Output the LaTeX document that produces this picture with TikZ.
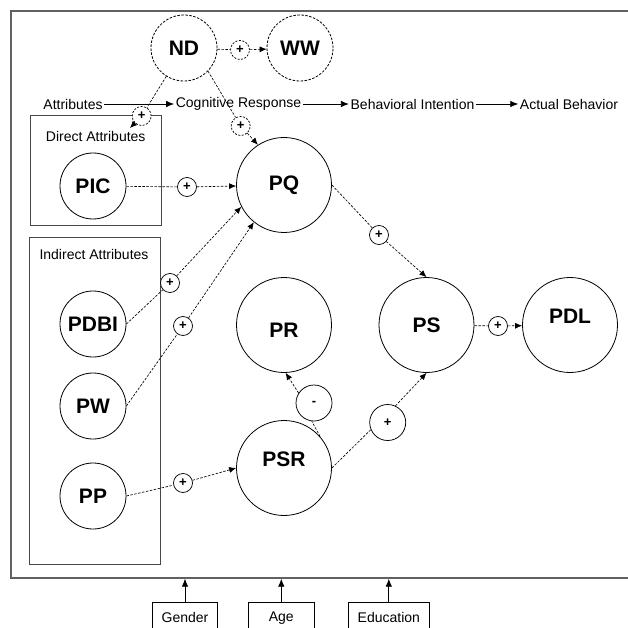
\documentclass[tikz,border=0pt]{standalone}
\usepackage{fontspec}
\setmainfont{Liberation Sans}
\usetikzlibrary{arrows.meta}
\begin{document}
\begin{tikzpicture}[x=1pt,y=-1pt,
  every node/.style={font=\fontsize{14}{16}\selectfont},
  labtxt/.style={font=\fontsize{21}{24}\selectfont\bfseries},
  big/.style={circle,draw,line width=0.8pt,inner sep=0pt,minimum size=95pt,labtxt},
  midc/.style={big,minimum size=66pt},
  ghost/.style={midc,dash pattern=on 2.5pt off 1.5pt},
  pluss/.style={circle,draw,line width=0.75pt,fill=white,inner sep=0pt,minimum size=19pt,font=\fontsize{13}{14}\selectfont\bfseries},
  dsign/.style={pluss,dash pattern=on 2pt off 1.5pt},
  wsign/.style={pluss,minimum size=36pt},
  grp/.style={draw=black!72,line width=1pt,inner sep=0pt},
  dlink/.style={line width=0.65pt,dash pattern=on 2.5pt off 1.5pt},
  arrowend/.style={-{Latex[length=7pt,width=6pt]}},
  seqarrow/.style={line width=0.8pt,-{Latex[length=8pt,width=6.5pt]}},
  rowtxt/.style={inner sep=1.5pt},
  demo/.style={draw,line width=0.9pt,minimum height=30pt,inner sep=0pt}
]
\path[use as bounding box, clip] (0,0) rectangle (628,628);

% outer frame of the model
\node[draw=black!62, line width=1.7pt, minimum width=640pt, minimum height=567pt,
      anchor=north west, inner sep=0pt] (frame) at (10,10) {};

% attitude chain along the top
\node[rowtxt] (ta)  at (73,104)    {Attributes};
\node[rowtxt] (tc)  at (238.5,104) {Cognitive Response};
\node[rowtxt] (tb)  at (412.5,104) {Behavioral Intention};
\node[rowtxt] (tac) at (569,104)   {Actual Behavior};
\draw[seqarrow] (ta) -- (tc);
\draw[seqarrow] (tc) -- (tb);
\draw[seqarrow] (tb) -- (tac);

% attribute groups
\node[grp, minimum width=131pt, minimum height=109pt] (dbox) at (95.5,170.5) {};
\node (dlab) at (95.7,136) {Direct Attributes};
\node[grp, minimum width=131pt, minimum height=327pt] (ibox) at (94.5,400.5) {};
\node (ilab) at (94,254) {Indirect Attributes};

% constructs
\node[ghost] (nd) at (184,48) {ND};
\node[ghost] (ww) at (300,48) {WW};
\node[midc] (pic)  at (93,186) {PIC};
\node[midc] (pdbi) at (93,324) {PDBI};
\node[midc] (pw)   at (93,406) {PW};
\node[midc] (pp)   at (93,496) {PP};
\node[big] (pq) at (284,185) {PQ};
\node[big, label={[labtxt,yshift=-5pt]center:PR}] (pr) at (284,325) {};
\node[big] (ps) at (426.5,325) {PS};
\node[big, label={[labtxt,yshift=9pt]center:PDL}] (pdl) at (570,325) {};
\node[big, label={[labtxt,yshift=9pt]center:PSR}] (psr) at (284,468) {};

% effect signs
\node[dsign] (s1) at (240,50) {+};
\node[dsign] (s2) at (141.7,116) {+};
\node[dsign] (s3) at (240.7,126) {+};
\node[pluss] (s4) at (187,187) {+};
\node[pluss] (s5) at (170,283) {+};
\node[pluss] (s6) at (183,326) {+};
\node[pluss] (s7) at (379,235) {+};
\node[pluss] (s8) at (498,326) {+};
\node[pluss] (s9) at (183,483) {+};
\node[wsign] (s10) at (314,403) {-};
\node[wsign] (s11) at (387.7,422.5) {+};
\coordinate (dtip) at (130,128);

% paths
\draw[dlink] (nd) -- (s1);
\draw[dlink,arrowend] (s1) -- (ww);
\draw[dlink] (nd.238) -- (s2);
\draw[dlink,arrowend] (s2) -- (dtip);
\draw[dlink] (nd.316) -- (s3);
\draw[dlink,arrowend] (s3) -- (pq.123);
\draw[dlink] (pic) -- (s4);
\draw[dlink,arrowend] (s4) -- (pq);
\draw[dlink] (pdbi.east) -- (s5);
\draw[dlink,arrowend] (s5) -- (pq.207);
\draw[dlink] (pw.east) -- (s6);
\draw[dlink,arrowend] (s6) -- (pq.231);
\draw[dlink] (pq.east) -- (s7);
\draw[dlink,arrowend] (s7) -- (ps.north);
\draw[dlink] (ps) -- (s8);
\draw[dlink,arrowend] (s8) -- (pdl);
\draw[dlink] (pp.east) -- (s9);
\draw[dlink,arrowend] (s9) -- (psr.west);
\draw[dlink] (psr.41) -- (s10.263);
\draw[dlink,arrowend] (s10.147) -- (pr.272);
\draw[dlink] (psr.east) -- (s11.203);
\draw[dlink,arrowend] (s11.65) -- (ps.south);

% moderators
\node[demo, minimum width=65pt] (gen) at (185,617.7)   {Gender};
\node[demo, minimum width=66pt] (age) at (281.3,617.7) {Age};
\node[demo, minimum width=81pt] (edu) at (388.8,617.7) {Education};
\draw[seqarrow] (gen) -- (gen |- frame.south);
\draw[seqarrow] (age) -- (age |- frame.south);
\draw[seqarrow] (edu) -- (edu |- frame.south);
\end{tikzpicture}
\end{document}
